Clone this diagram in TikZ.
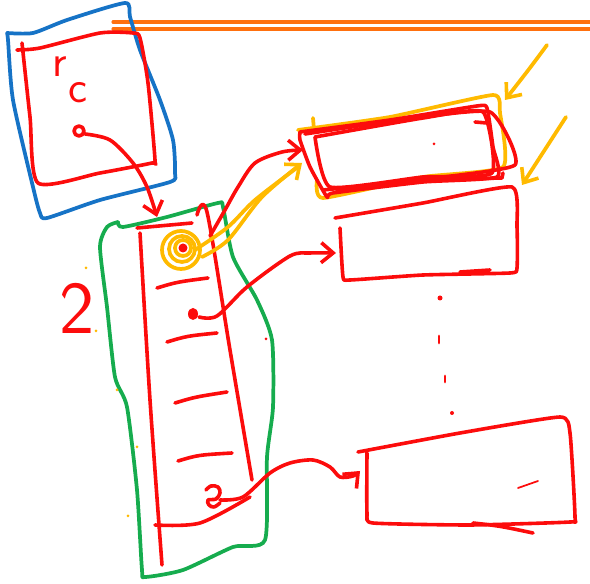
\documentclass[tikz,border=0pt]{standalone}
\usepackage{tikz}
\usetikzlibrary{arrows.meta}
\definecolor{sketchred}{RGB}{252,12,12}
\definecolor{sketchblue}{RGB}{22,115,198}
\definecolor{sketchgreen}{RGB}{22,172,78}
\definecolor{sketchyellow}{RGB}{255,186,0}
\definecolor{sketchorange}{RGB}{255,112,14}
\tikzset{
  redpen/.style={sketchred,line width=2.7pt},
  bluepen/.style={sketchblue,line width=2.8pt},
  greenpen/.style={sketchgreen,line width=2.8pt},
  yellowpen/.style={sketchyellow,line width=2.8pt},
  orangepen/.style={sketchorange,line width=2.3pt},
  handtip/.style={-{Straight Barb[length=9pt,width=15pt,line width=2.7pt]}},
  handtext/.style={text=sketchred,inner sep=0pt,font=\sffamily\fontsize{34}{34}\selectfont},
}

\begin{document}
\begin{tikzpicture}[x=0.75pt,y=-0.75pt,line cap=round,line join=round]
\useasboundingbox (0,0) rectangle (590,584);
% page rule
\draw[orangepen] (113,22)--(590,22);
\draw[orangepen] (113,29)--(590,29);

% register frame
\draw[bluepen] plot[smooth,tension=.4] coordinates {(7,33) (33,33) (67,20) (125,3)
  (130,17) (140,50) (160,100) (173,140) (175,173) (170,182) (100,200) (47,218)
  (40,213) (33,187) (13,100) (8,40) (7,33)};
\draw[redpen] plot[smooth,tension=.4] coordinates {(17,50) (40,48) (100,33) (133,33)
  (140,38) (148,83) (155,160) (152,163) (100,173) (38,183) (30,117) (22,43)};
\node[handtext,anchor=base] (regR) at (60,77) {r};
\node[handtext,anchor=base] (regC) at (78,103) {c};
\draw[redpen] (79,131) circle (5);
\coordinate (rcPtr) at (85,134);

% the table
\draw[greenpen] plot[smooth,tension=.4] coordinates {(118,222) (123,227) (167,217)
  (218,203) (223,207) (233,257) (257,300) (272,340) (273,407) (267,457) (265,540)
  (233,547) (183,570) (145,577) (142,570) (137,490) (127,407) (115,377) (107,307)
  (100,247) (107,227) (118,222)};
\draw[redpen] plot[smooth] coordinates {(140,233) (150,400) (162,565)};
\draw[redpen] (137,228)--(192,223);
\draw[redpen] plot[smooth] coordinates {(197,215) (207,212) (230,350) (252,480)};
\draw[redpen] plot[smooth] coordinates {(155,525) (200,523) (250,497)};
\foreach \xa/\ya/\xb/\yb in {157/288/208/278,167/342/217/333,175/403/227/392,178/461/232/453}
  \draw[redpen] (\xa,\ya) .. controls (\xa+20,\ya-6) .. (\xb,\yb);
\coordinate (tblTop) at (157,217);
\draw[redpen,handtip] plot[smooth] coordinates {(rcPtr) (110,140) (133,163) (147,187) (tblTop)};
\node[handtext,font=\sffamily\fontsize{56}{56}\selectfont] (tblNum) at (77,308) {2};

% entries
\draw[yellowpen] (181,250) circle (19);
\draw[yellowpen] (182,249) circle (13);
\draw[yellowpen] (183,248) circle (8);
\fill[sketchred] (183,248) circle (4.5);
\fill[sketchred] (193,314) ellipse (5 and 6);
\draw[redpen] plot[smooth,tension=.6] coordinates {(206,490) (211,486) (218,487)
  (220,493) (216,499) (208,500) (209,505) (214,507) (220,503)};
\coordinate (entA) at (210,236);
\coordinate (entB) at (199,317);
\coordinate (entC) at (220,500);

% blocks
\draw[yellowpen] plot[smooth,tension=.3] coordinates {(317,180) (323,198) (423,177)
  (503,167) (500,113) (493,95) (390,117) (298,130)};
\draw[yellowpen] (313,118)--(314,130);
\draw[redpen] plot[smooth,tension=.3] coordinates {(300,132) (390,120) (477,106)
  (487,108) (493,147) (497,177) (423,182) (333,193) (327,197) (310,167) (300,140) (300,132)};
\draw[redpen] plot[smooth,tension=.3] coordinates {(315,137) (423,118) (483,112)
  (492,173) (423,177) (330,187) (315,137)};
\draw[redpen] plot[smooth,tension=.3] coordinates {(305,134) (400,120) (490,112)
  (515,165) (417,180) (337,190)};
\draw[redpen] (323,190) -- (423,180) -- (502,178) -- (503,173);
\draw[redpen] (475,122)--(487,123);
\fill[sketchred] (434,144) circle (1.5);
\coordinate (blkA) at (303,150);
\draw[redpen] plot[smooth,tension=.3] coordinates {(335,218) (423,203) (512,187)
  (517,227) (517,268) (510,273) (423,275) (350,280) (343,277) (340,228)};
\draw[redpen] (460,272)--(490,270);
\coordinate (blkB) at (336,253);
\draw[redpen] plot[smooth,tension=.3] coordinates {(358,452) (460,433) (560,417)
  (570,433) (575,517) (570,522) (470,525) (373,523) (367,513) (367,453)};
\draw[redpen] (473,523) .. controls (500,526) .. (533,533);
\draw[sketchred,line width=1.3pt] (518,488)--(538,481);
\coordinate (blkN) at (360,471);

% pointers into the blocks
\draw[redpen,handtip] plot[smooth] coordinates {(entA) (225,210) (238,187) (255,163) (282,152) (blkA)};
\draw[redpen,handtip] plot[smooth] coordinates {(entB) (217,316) (247,287) (290,256) (310,253) (blkB)};
\draw[redpen,handtip] plot[smooth] coordinates {(entC) (243,497) (270,473) (290,463) (313,460) (330,467) (340,477) (353,476) (blkN)};
\draw[yellowpen] plot[smooth] coordinates {(195,250) (228,227) (255,200) (298,167)};
\draw[yellowpen,handtip] plot[smooth] coordinates {(202,257) (228,240) (262,197) (302,163)};

% continuation dots
\fill[sketchred] (440,298) circle (2.5);
\draw[sketchred,line width=2.2pt] (439,336)--(439,343);
\draw[sketchred,line width=2.2pt] (445,376)--(445,382);
\fill[sketchred] (452,413) circle (2);
\fill[sketchred] (266,339) circle (1.5);

% highlight arrows
\coordinate (hiA) at (505,100);
\coordinate (hiB) at (522,185);
\draw[yellowpen,handtip] (547,45) .. controls (530,68) .. (hiA);
\draw[yellowpen,handtip] (566,117) .. controls (545,150) .. (hiB);
\foreach \px/\py in {86/268,96/331,117/390,137/447,128/516}
  \fill[sketchyellow] (\px,\py) circle (1.5);
\end{tikzpicture}
\end{document}
